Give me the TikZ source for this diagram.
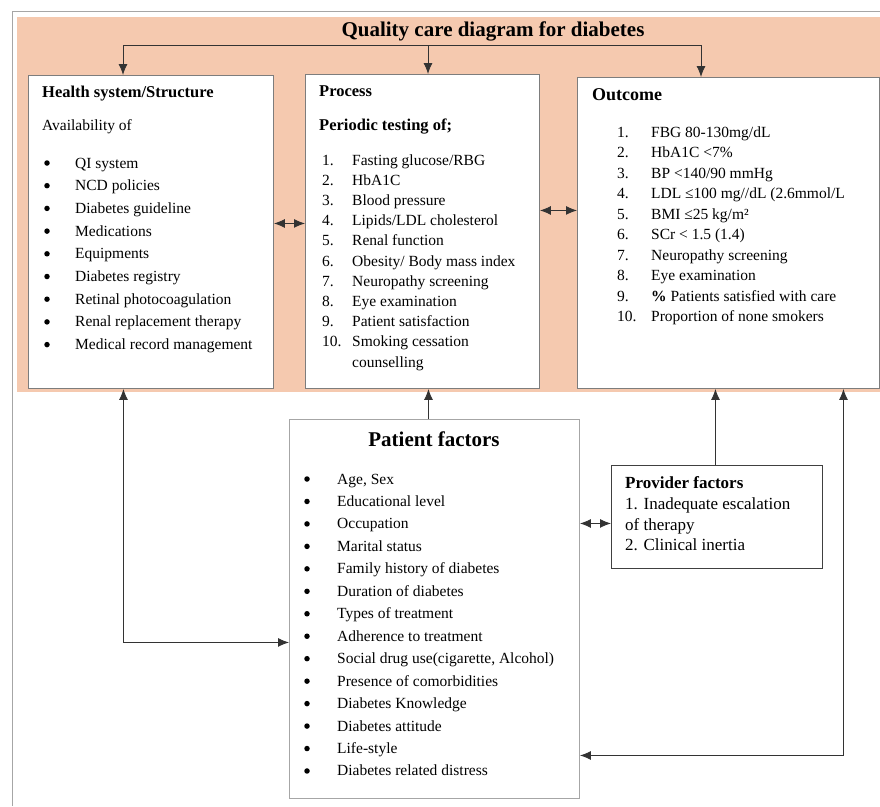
\documentclass[tikz,border=0pt]{standalone}
\usepackage{fontspec}
\setmainfont{Liberation Serif}
\usetikzlibrary{arrows.meta,positioning}
\definecolor{peach}{RGB}{245,201,175}
\definecolor{boxline}{RGB}{125,125,125}
\tikzset{>={Latex[length=11pt,width=9pt]}}

\begin{document}
\begin{tikzpicture}[x=1pt,y=-1pt,
                    panel/.style={draw=boxline,fill=white,anchor=north west,inner sep=0,line width=0.9pt},
                    txt/.style={anchor=base west,inner sep=0,font=\fontsize{15.5}{18}\selectfont},
                    head/.style={anchor=base west,inner sep=0,font=\fontsize{16.5}{19}\selectfont\bfseries},
                    dot/.style={circle,fill=black,inner sep=0,minimum size=5.5pt},
                    link/.style={draw=black!80,line width=0.9pt},
        ]
        \useasboundingbox (0,0) rectangle (880,806);
        % frame and shaded band
        \draw[gray!70,line width=1pt] (12.5,806) |- (880,11);
        \fill[peach] (17,17) rectangle (880,392);
%
        \node[font=\fontsize{21}{24}\selectfont\bfseries] (title) at (493,31) {Quality care diagram for diabetes};
        \node[panel,minimum width=245pt,minimum height=313pt] (health) at (28,75) {};
        \node[panel,minimum width=234pt,minimum height=314pt] (process) at (305,74) {};
        \node[panel,minimum width=302pt,minimum height=311pt] (outcome) at (577,77) {};
        \node[panel,draw=gray!70,minimum width=290pt,minimum height=379pt] (patient) at (289,419) {};
        \node[panel,draw=black!75,minimum width=211pt,minimum height=103pt] (provider) at (611,465) {};
%
        % health system
        \node[head] (hshead) at (42,97) {Health system/Structure};
        \node[txt] (hsavail) at (42,130) {Availability of};
        \foreach \t [count=\i from 0] in {QI system,NCD policies,Diabetes guideline,Medications,Equipments,Diabetes registry,Retinal photocoagulation,Renal replacement therapy,Medical record management} {
            \node[dot] (hsb\i) at (47,163+22.7*\i) {};
            \node[txt] (hs\i) at (75,168+22.7*\i) {\t};
        }
        % process
        \node[head] (prhead) at (319,96) {Process};
        \node[head] (prsub) at (319,130) {Periodic testing of;};
        \foreach \t [count=\i] in {Fasting glucose/RBG,HbA1C,Blood pressure,Lipids/LDL cholesterol,Renal function,Obesity/ Body mass index,Neuropathy screening,Eye examination,Patient satisfaction,Smoking cessation} {
            \node[txt] (prn\i) at (322,165+20.2*\i-20.2) {\i.};
            \node[txt] (pr\i) at (352,165+20.2*\i-20.2) {\t};
        }
        \node[txt] (pr10b) at (352,367) {counselling};
        % outcome
        \node[head,font=\fontsize{18}{21}\selectfont\bfseries] (ochead) at (592,100) {Outcome};
        \foreach \t [count=\i] in {FBG 80-130mg/dL,HbA1C <7\%,BP <140/90 mmHg,LDL ≤100 mg//dL (2.6mmol/L,BMI ≤25 kg/m²,SCr < 1.5 (1.4),Neuropathy screening,Eye examination,\textbf{\%} Patients satisfied with care,Proportion of none smokers} {
            \node[txt] (ocn\i) at (617,137+20.5*\i-20.5) {\i.};
            \node[txt] (oc\i) at (651,137+20.5*\i-20.5) {\t};
        }
        % patient factors
        \node[anchor=base,inner sep=0,font=\fontsize{21}{24}\selectfont\bfseries] (pfhead) at (434,446) {Patient factors};
        \foreach \t [count=\i from 0] in {{Age, Sex},Educational level,Occupation,Marital status,Family history of diabetes,Duration of diabetes,Types of treatment,Adherence to treatment,{Social drug use(cigarette, Alcohol)},Presence of comorbidities,Diabetes Knowledge,Diabetes attitude,Life-style,Diabetes related distress} {
            \node[dot] (pfb\i) at (307,479+22.46*\i) {};
            \node[txt] (pf\i) at (337,484+22.46*\i) {\t};
        }
        % provider factors
        \node[head,font=\fontsize{17}{20}\selectfont\bfseries] (pvhead) at (625,488) {Provider factors};
        \node[txt,font=\fontsize{17}{20}\selectfont] (pv1) at (625,509) {1. Inadequate escalation};
        \node[txt,font=\fontsize{17}{20}\selectfont] (pv1b) at (625,530) {of therapy};
        \node[txt,font=\fontsize{17}{20}\selectfont] (pv2) at (625,550) {2. Clinical inertia};
%
        \coordinate (hx) at (123,45);
        \coordinate (px) at (428,45);
        \coordinate (ox) at (701,45);
        \draw[link] (hx) -- (ox);
        \draw[link,->] (hx) -- (hx |- health.north);
        \draw[link,->] (px) -- (px |- process.north);
        \draw[link,->] (ox) -- (ox |- outcome.north);
        \draw[link,<->] ([yshift=8.5pt]health.east) -- ([yshift=8.5pt]health.east -| process.west);
        \draw[link,<->] ([yshift=21pt]process.east) -- ([yshift=21pt]process.east -| outcome.west);
        \draw[link,->] ([xshift=-6pt]patient.north) -- ([xshift=-6pt]patient.north |- process.south);
        \draw[link,->] ([xshift=-1.5pt]provider.north) -- ([xshift=-1.5pt]provider.north |- outcome.south);
        \draw[link,<->] ([yshift=-6.5pt]provider.west) -- ([yshift=-6.5pt]provider.west -| patient.east);
        \draw[link,<->] ([xshift=-27.5pt]health.south) |- ([yshift=-33.5pt]patient.west);
        \draw[link,<->] ([xshift=115pt]outcome.south) |- ([yshift=-146.5pt]patient.east);
    \end{tikzpicture}
\end{document}
